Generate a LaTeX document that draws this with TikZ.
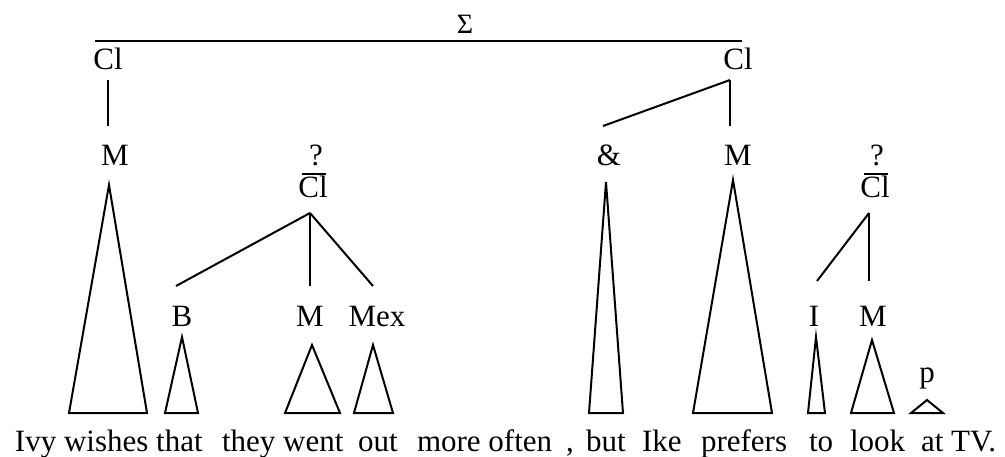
\documentclass[tikz,border=0pt]{standalone}
\usepackage{fontspec}
\setmainfont{Liberation Serif}

\begin{document}
\begin{tikzpicture}[x=1pt, y=-1pt, line width=2pt, line join=miter,
  lab/.style={inner sep=0pt, anchor=base, font=\fontsize{31}{31}\selectfont},
  hi/.style={lab, text height=27pt, text depth=10pt},
  mid/.style={lab, text height=38pt, text depth=0pt},
  clb/.style={lab, text height=22.5pt, text depth=15pt},
  low/.style={lab, text height=39pt, text depth=0pt},
  word/.style={lab, anchor=base west},
  bar/.style={shorten <=5pt, shorten >=3pt}]
\useasboundingbox (0,0) rectangle (1005,456);
\node[lab, font=\fontsize{28}{28}\selectfont] (sig) at (465,33) {Σ};
\node[hi] (clL) at (108,69) {Cl};
\node[hi] (clR) at (738,69) {Cl};
\node[mid] (mL) at (115,165) {M};
\node[lab] (qL) at (316,165) {?};
\node[clb] (cbL) at (313,197) {Cl};
\node[mid] (amp) at (609,165) {\&};
\node[mid] (mR) at (738,165) {M};
\node[lab] (qR) at (877,165) {?};
\node[clb] (cbR) at (875,197) {Cl};
\node[low] (b) at (182,326) {B};
\node[low] (mB) at (310,326) {M};
\node[low] (mex) at (377,326) {Mex};
\node[low, text height=44pt] (i) at (814,326) {I};
\node[low, text height=44pt] (mI) at (873,326) {M};
\node[lab] (p) at (927,382) {p};
\node[word] (ivy) at (14,451) {Ivy wishes that};
\node[word] (they) at (221,451) {they went};
\node[word] (out) at (357,451) {out};
\node[word] (more) at (416,451) {more often};
\node[word] (comma) at (565,451) {,};
\node[word] (but) at (585,451) {but};
\node[word] (ike) at (641,451) {Ike};
\node[word] (prefers) at (700,451) {prefers};
\node[word] (to) at (808,451) {to};
\node[word] (look) at (849,451) {look};
\node[word] (attv) at (920,451) {at TV.};
\draw ([xshift=3pt]clL.north west) -- ([xshift=4pt]clR.north);
\draw (clL.south) -- (clL.south |- mL.north);
\draw ([xshift=-8pt]clR.south) -- ([xshift=-6pt]amp.north);
\draw ([xshift=-8pt]clR.south) -- ([xshift=-8pt]mR.north);
\draw[bar] (cbL.north west) -- (cbL.north east);
\draw[bar] (cbR.north west) -- (cbR.north east);
\draw ([xshift=-3pt]cbL.south) -- ([xshift=-6pt]b.north);
\draw ([xshift=-3pt]cbL.south) -- (mB.north);
\draw ([xshift=-3pt]cbL.south) -- ([xshift=-4pt]mex.north);
\draw ([xshift=-6pt]cbR.south) -- ([xshift=3pt]i.north);
\draw ([xshift=-6pt]cbR.south) -- ([xshift=-4pt]mI.north);
\draw (109,185) -- (69,413) -- (147,413) -- cycle;
\draw (182,337) -- (165,413) -- (198,413) -- cycle;
\draw (312,345) -- (285,413) -- (340,413) -- cycle;
\draw (373,345) -- (354,413) -- (393,413) -- cycle;
\draw (606,182) -- (589,413) -- (623,413) -- cycle;
\draw (733,180) -- (693,413) -- (772,413) -- cycle;
\draw (816,337) -- (808,413) -- (825,413) -- cycle;
\draw (872,340) -- (851,413) -- (894,413) -- cycle;
\draw (927,400) -- (911,413) -- (943,413) -- cycle;
\end{tikzpicture}
\end{document}
